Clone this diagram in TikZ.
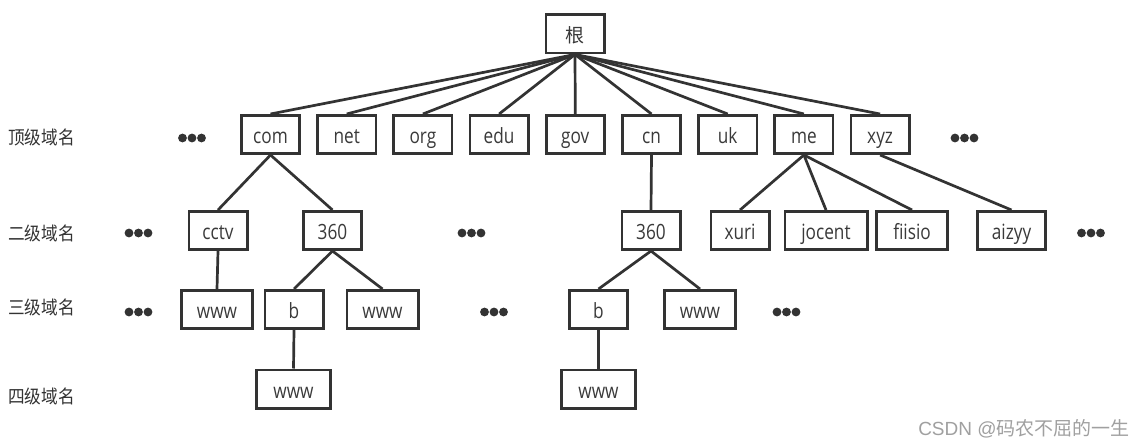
\documentclass[tikz,border=0pt]{standalone}
\usepackage{fontspec}
\setmainfont[FakeStretch=0.82]{Open Sans}
\newfontfamily\cjk{Noto Sans CJK SC}
\newfontfamily\cjknarrow[FakeStretch=0.9]{Noto Sans CJK SC}
\newfontfamily\marklatin{Liberation Sans}
\definecolor{lineGray}{HTML}{333333}
\definecolor{textGray}{HTML}{3A3A3A}
\definecolor{markGray}{HTML}{A0A0A0}

\begin{document}
\begin{tikzpicture}[x=1pt, y=-1pt,
            every node/.style={draw=lineGray, line width=2.7pt, inner sep=0pt,
                minimum width=58.3pt, minimum height=38.3pt, text=textGray,
                text height=18pt, text depth=0pt, font=\fontsize{21}{21}\selectfont},
            link/.style={draw=lineGray, line width=2.7pt},
            plain/.style={draw=none, minimum width=0pt, minimum height=0pt},
            levelname/.style={plain, anchor=west, text=lineGray,
                font=\cjknarrow\fontsize{18.5}{18.5}\selectfont}]
        \path[fill=white, use as bounding box] (0,0) rectangle (1146,444);

        \node (nodeRoot) at (575,34) {\cjk\fontsize{19}{19}\selectfont 根};

        \foreach \name/\txt [count=\i from 0] in {Com/com, Net/net, Org/org, Edu/edu,
                Gov/gov, Cn/cn, Uk/uk, Me/me, Xyz/xyz}
            \node (node\name) at (270.5+76.2*\i,134.5) {\txt};

        \node (nodeCctv) at (218,230.5) {cctv};
        \node (nodeComSix) at (332.5,230.5) {360};
        \node (nodeCnSix) at (651,230.5) {360};
        \node (nodeXuri) at (740,230.5) {xuri};
        \node[minimum width=82.3pt] (nodeJocent) at (826,230.5) {jocent};
        \node[minimum width=71.3pt] (nodeFiisio) at (912,230.5) {fiisio};
        \node[minimum width=68.3pt] (nodeAizyy) at (1011.5,230.5) {aizyy};

        \node[minimum width=71.3pt] (nodeCctvWww) at (217,309.5) {www};
        \node (nodeComB) at (294,309.5) {b};
        \node[minimum width=71.3pt] (nodeComWww) at (382.5,309.5) {www};
        \node (nodeCnB) at (598.5,309.5) {b};
        \node[minimum width=71.3pt] (nodeCnWww) at (700,309.5) {www};

        \node[minimum width=74.3pt] (nodeComBWww) at (293.5,389) {www};
        \node[minimum width=74.3pt] (nodeCnBWww) at (598.5,389) {www};

        \foreach \name in {Com, Net, Org, Edu, Gov, Cn, Uk, Me, Xyz}
            \draw[link] (nodeRoot.south) -- (node\name.north);
        \draw[link] (nodeCom.south) -- (nodeCctv.north);
        \draw[link] (nodeCom.south) -- (nodeComSix.north);
        \draw[link] (nodeCn.south) -- (nodeCnSix.north);
        \draw[link] (nodeMe.south) -- (nodeXuri.north);
        \draw[link] (nodeMe.south) -- (nodeJocent.north);
        \draw[link] (nodeMe.south) -- (nodeFiisio.north);
        \draw[link] (nodeXyz.south) -- (nodeAizyy.north);
        \draw[link] (nodeCctv.south) -- (nodeCctvWww.north);
        \draw[link] (nodeComSix.south) -- (nodeComB.north);
        \draw[link] (nodeComSix.south) -- (nodeComWww.north);
        \draw[link] (nodeCnSix.south) -- (nodeCnB.north);
        \draw[link] (nodeCnSix.south) -- (nodeCnWww.north);
        \draw[link] (nodeComB.south) -- (nodeComBWww.north);
        \draw[link] (nodeCnB.south) -- (nodeCnBWww.north);

        \foreach \x/\y in {192/138, 964.5/138, 138.5/233, 471.5/233, 1091/233,
                138.5/312, 494/312, 786.5/312}
            \foreach \d in {-9.5,0,9.5}
                \fill[lineGray] (\x+\d,\y) circle[radius=4.4];

        \node[levelname] (labelTop) at (7,135) {顶级域名};
        \node[levelname] (labelSecond) at (7,231.5) {二级域名};
        \node[levelname] (labelThird) at (7,305) {三级域名};
        \node[levelname] (labelFourth) at (7,394) {四级域名};

        \node[plain, anchor=east, text=markGray, font=\fontsize{19}{19}\selectfont]
            (nodeMark) at (1131,426) {{\marklatin CSDN @}\cjk 码农不屈的一生};
\end{tikzpicture}
\end{document}
